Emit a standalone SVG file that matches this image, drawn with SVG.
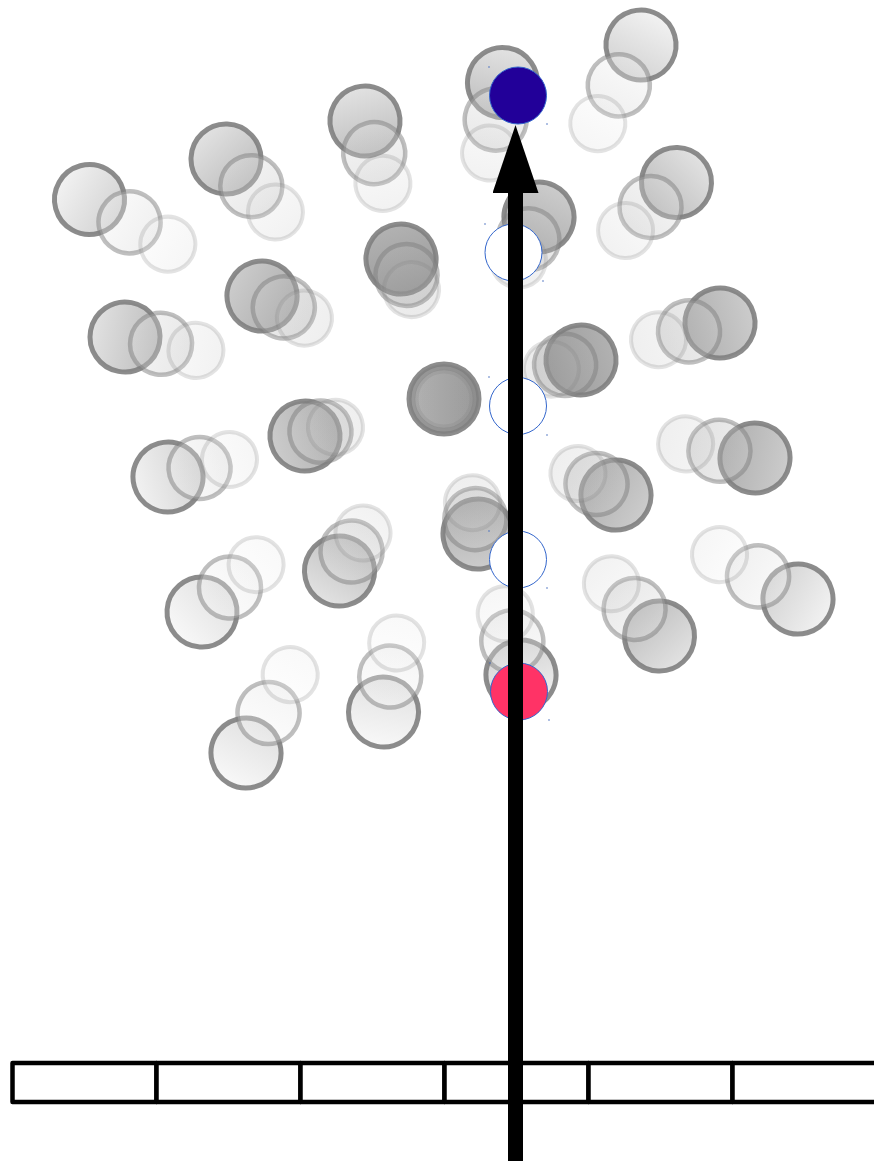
<svg xmlns="http://www.w3.org/2000/svg" width="874" height="1162" viewBox="0 0 874 1162">
<defs>
<style>
.m{stroke:#808080;stroke-opacity:.9;stroke-width:5}
.s{stroke:#808080;stroke-opacity:.5;stroke-width:4.5;fill-opacity:.35}
.u{stroke:#808080;stroke-opacity:.22;stroke-width:4;fill-opacity:.2}
.t1{fill:url(#g1)}.t2{fill:url(#g2)}.t3{fill:url(#g3)}.t4{fill:url(#g4)}.t5{fill:url(#g5)}
.node{stroke:#3366cc;stroke-width:1}
.dot{fill:#4a70c0}
.cell{fill:#fff;stroke:#000;stroke-width:4.5;stroke-linejoin:round}
</style>
<linearGradient id="g1" x1="0" y1="0" x2="1" y2="0"><stop offset="0" stop-color="#f8f8f8"/><stop offset="1" stop-color="#e0e0e0"/></linearGradient>
<linearGradient id="g2" x1="0" y1="0" x2="1" y2="0"><stop offset="0" stop-color="#f2f2f2"/><stop offset="1" stop-color="#d2d2d2"/></linearGradient>
<linearGradient id="g3" x1="0" y1="0" x2="1" y2="0"><stop offset="0" stop-color="#e2e2e2"/><stop offset="1" stop-color="#bdbdbd"/></linearGradient>
<linearGradient id="g4" x1="0" y1="0" x2="1" y2="0"><stop offset="0" stop-color="#cccccc"/><stop offset="1" stop-color="#aeaeae"/></linearGradient>
<linearGradient id="g5" x1="0" y1="0" x2="1" y2="0"><stop offset="0" stop-color="#b2b2b2"/><stop offset="1" stop-color="#9a9a9a"/></linearGradient>
<marker id="ah" markerUnits="userSpaceOnUse" markerWidth="68" markerHeight="46" viewBox="0 0 68 46" refX="0" refY="23" orient="auto"><path d="M0,0 L68,23 L0,46 z" fill="#000"/></marker>
</defs>
<rect width="874" height="1162" fill="#fff"/>
<g id="particles">
<g id="p1" transform="translate(502.5 82.5) rotate(100.4)"><circle class="m t3" r="35"/><circle class="s t3" cx="37.7" r="31"/><circle class="u t3" cx="71.6" r="27.5"/></g>
<g id="p2" transform="translate(641 45) rotate(118.8)"><circle class="m t2" r="35"/><circle class="s t2" cx="46.1" r="31"/><circle class="u t2" cx="89.7" r="27.5"/></g>
<g id="p3" transform="translate(365 121) rotate(74)"><circle class="m t3" r="35"/><circle class="s t3" cx="33.4" r="31"/><circle class="u t3" cx="64.9" r="27.5"/></g>
<g id="p4" transform="translate(226 159) rotate(47)"><circle class="m t3" r="35"/><circle class="s t3" cx="37.1" r="31"/><circle class="u t3" cx="72.5" r="27.5"/></g>
<g id="p5" transform="translate(89.5 199.5) rotate(29.7)"><circle class="m t2" r="35"/><circle class="s t2" cx="46.1" r="31"/><circle class="u t2" cx="90.2" r="27.5"/></g>
<g id="p6" transform="translate(676.5 182.5) rotate(136.7)"><circle class="m t3" r="35"/><circle class="s t3" cx="35.7" r="31"/><circle class="u t3" cx="70" r="27.5"/></g>
<g id="p7" transform="translate(539 217) rotate(115.5)"><circle class="m t4" r="35"/><circle class="s t4" cx="24.8" r="31"/><circle class="u t4" cx="47.9" r="27.5"/></g>
<g id="p8" transform="translate(401 259) rotate(71)"><circle class="m t5" r="35"/><circle class="s t5" cx="16.9" r="31"/><circle class="u t5" cx="32.3" r="27.5"/></g>
<g id="p9" transform="translate(262 296) rotate(27.6)"><circle class="m t4" r="35"/><circle class="s t4" cx="24.6" r="31"/><circle class="u t4" cx="47.9" r="27.5"/></g>
<g id="p10" transform="translate(125 337) rotate(10.7)"><circle class="m t3" r="35"/><circle class="s t3" cx="36.7" r="31"/><circle class="u t3" cx="72.2" r="27.5"/></g>
<g id="p11" transform="translate(581 360) rotate(163)"><circle class="m t5" r="35"/><circle class="s t5" cx="16.6" r="31"/><circle class="u t5" cx="31" r="27.5"/></g>
<g id="p12" transform="translate(720 323) rotate(164.8)"><circle class="m t4" r="35"/><circle class="s t4" cx="32.1" r="31"/><circle class="u t4" cx="63.7" r="27.5"/></g>
<g id="p13" transform="translate(444 399) rotate(0)"><circle class="m t5" r="35"/><circle class="s t5" cx="0" r="31"/><circle class="u t5" cx="0" r="27.5"/></g>
<g id="p14" transform="translate(305 436) rotate(-16)"><circle class="m t4" r="35"/><circle class="s t4" cx="16.1" r="31"/><circle class="u t4" cx="31.7" r="27.5"/></g>
<g id="p15" transform="translate(168 477) rotate(-15.9)"><circle class="m t2" r="35"/><circle class="s t2" cx="32.8" r="31"/><circle class="u t2" cx="63.9" r="27.5"/></g>
<g id="p16" transform="translate(478 534) rotate(-100)"><circle class="m t4" r="35"/><circle class="s t4" cx="15.1" r="31"/><circle class="u t4" cx="31.8" r="27.5"/></g>
<g id="p17" transform="translate(616 495) rotate(-150.5)"><circle class="m t4" r="35"/><circle class="s t4" cx="22.4" r="31"/><circle class="u t4" cx="43.7" r="27.5"/></g>
<g id="p18" transform="translate(755 458) rotate(-168.5)"><circle class="m t4" r="35"/><circle class="s t4" cx="36.3" r="31"/><circle class="u t4" cx="70.8" r="27.5"/></g>
<g id="p19" transform="translate(339.5 571) rotate(-58.3)"><circle class="m t3" r="35"/><circle class="s t3" cx="22.9" r="31"/><circle class="u t3" cx="44.7" r="27.5"/></g>
<g id="p20" transform="translate(202 612) rotate(-41.2)"><circle class="m t1" r="35"/><circle class="s t1" cx="37.2" r="31"/><circle class="u t1" cx="71.9" r="27.5"/></g>
<g id="p21" transform="translate(659.5 636) rotate(-132.6)"><circle class="m t3" r="35"/><circle class="s t3" cx="36.8" r="31"/><circle class="u t3" cx="71.1" r="27.5"/></g>
<g id="p22" transform="translate(798 599) rotate(-150.5)"><circle class="m t2" r="35"/><circle class="s t2" cx="45.9" r="31"/><circle class="u t2" cx="90.2" r="27.5"/></g>
<g id="p23" transform="translate(521 675) rotate(-104.4)"><circle class="m t2" r="35"/><circle class="s t2" cx="34.9" r="31"/><circle class="u t2" cx="63.3" r="27.5"/></g>
<g id="p24" transform="translate(383.5 712) rotate(-79.2)"><circle class="m t1" r="35"/><circle class="s t1" cx="36.1" r="31"/><circle class="u t1" cx="70.3" r="27.5"/></g>
<g id="p25" transform="translate(246 753) rotate(-60.6)"><circle class="m t1" r="35"/><circle class="s t1" cx="45.9" r="31"/><circle class="u t1" cx="90" r="27.5"/></g>
</g>
<g id="ruler">
<rect class="cell" x="12.5" y="1063" width="144" height="39"/>
<rect class="cell" x="156.5" y="1063" width="144" height="39"/>
<rect class="cell" x="300.5" y="1063" width="144" height="39"/>
<rect class="cell" x="444.5" y="1063" width="144" height="39"/>
<rect class="cell" x="588.5" y="1063" width="144" height="39"/>
<rect class="cell" x="732.5" y="1063" width="144" height="39"/>
</g>
<g id="node-top"><circle class="node" cx="518" cy="95.5" r="28.5" fill="#220099"/><circle class="dot" cx="489" cy="67" r="0.8"/><circle class="dot" cx="547" cy="124" r="0.8"/></g>
<g id="node-w1"><circle class="node" cx="513.5" cy="252.5" r="28.5" fill="#fff"/><circle class="dot" cx="485" cy="224" r="0.8"/><circle class="dot" cx="543" cy="281" r="0.8"/></g>
<g id="node-w2"><circle class="node" cx="518" cy="406" r="28.5" fill="#fff"/><circle class="dot" cx="489" cy="377" r="0.8"/><circle class="dot" cx="547" cy="435" r="0.8"/></g>
<g id="node-w3"><circle class="node" cx="518" cy="559.5" r="28.5" fill="#fff"/><circle class="dot" cx="489" cy="531" r="0.8"/><circle class="dot" cx="547" cy="588" r="0.8"/></g>
<g id="node-pink"><circle class="node" cx="519" cy="691.5" r="28.5" fill="#ff3366"/><circle class="dot" cx="490" cy="663" r="0.8"/><circle class="dot" cx="549" cy="720" r="0.8"/></g>
<g id="connectors">
<line x1="515.5" y1="1161" x2="515.5" y2="193" stroke="#000" stroke-width="15" marker-end="url(#ah)"/>
</g>
</svg>
